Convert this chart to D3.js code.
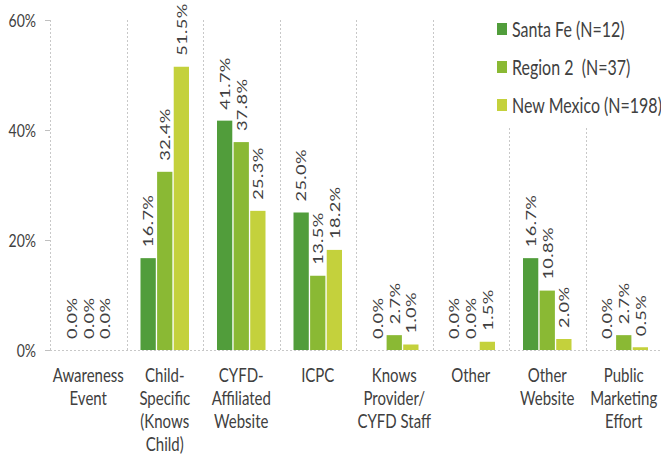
<!DOCTYPE html>
<html><head><meta charset="utf-8">
<script src="https://cdn.jsdelivr.net/npm/d3@7"></script>
<style>
body{margin:0;background:#fff;}
svg{display:block;}
text{font-family:Lato,"Open Sans",sans-serif;fill:#404040;}
</style></head>
<body>
<script>
const categories = ["Awareness Event","Child-Specific (Knows Child)","CYFD-Affiliated Website","ICPC","Knows Provider/ CYFD Staff","Other","Other Website","Public Marketing Effort"];
const categoryLines = [["Awareness","Event"],["Child-","Specific","(Knows","Child)"],["CYFD-","Affiliated","Website"],["ICPC"],["Knows","Provider/","CYFD Staff"],["Other"],["Other","Website"],["Public","Marketing","Effort"]];
const seriesNames = ["Santa Fe (N=12)","Region 2  (N=37)","New Mexico (N=198)"];
const santaFe   = [0.0, 16.7, 41.7, 25.0, 0.0, 0.0, 16.7, 0.0];
const region2   = [0.0, 32.4, 37.8, 13.5, 2.7, 0.0, 10.8, 2.7];
const newMexico = [0.0, 51.5, 25.3, 18.2, 1.0, 1.5, 2.0, 0.5];
const seriesColors = ["#519d3b","#8ab934","#c4d13c"];
const yTicks = [0, 20, 40, 60];

const W = 661, H = 455;
const svg = d3.select("body").append("svg").attr("width", W).attr("height", H);
const SY = 1.3; // vertical stretch of text

const x0 = d3.scaleBand().domain(categories).range([50, 662]).paddingInner(0).paddingOuter(0);
const y = d3.scaleLinear().domain([0, 60]).range([350, 20]);
const groupW = 48.5;
const x1 = d3.scaleBand().domain(d3.range(3)).range([0, groupW]).paddingInner(0.08).paddingOuter(0);
const series = [santaFe, region2, newMexico];

// gridlines (category separators)
const grid = svg.append("g");
const bounds = categories.map(c => x0(c) + x0.bandwidth());
grid.selectAll("line.v").data([50].concat(bounds)).join("line")
  .attr("x1", d => Math.round(d) + 0.5).attr("x2", d => Math.round(d) + 0.5)
  .attr("y1", y(60)).attr("y2", y(0))
  .attr("stroke", "#c8c8c8").attr("stroke-dasharray", "2,2").attr("stroke-width", 1);
// baseline
grid.append("line").attr("x1", 50).attr("x2", 662).attr("y1", y(0) + 0.5).attr("y2", y(0) + 0.5)
  .attr("stroke", "#c8c8c8").attr("stroke-dasharray", "2,2");
// y ticks
grid.selectAll("line.t").data(yTicks).join("line")
  .attr("x1", 45).attr("x2", 50).attr("y1", d => Math.round(y(d)) + 0.5).attr("y2", d => Math.round(y(d)) + 0.5)
  .attr("stroke", "#c0c0c0");

// y tick labels
svg.append("g").selectAll("text").data(yTicks).join("text")
  .attr("transform", d => `translate(36,${y(d)}) scale(1,${SY})`)
  .attr("text-anchor", "end").attr("dy", "0.36em")
  .style("font-size", "14px")
  .text(d => d + "%");

// bars
const groups = svg.append("g").selectAll("g").data(categories).join("g")
  .attr("transform", c => `translate(${x0(c) + (x0.bandwidth() - groupW) / 2},0)`);
groups.each(function(c, i) {
  const g = d3.select(this);
  series.forEach((s, k) => {
    const v = s[i];
    g.append("rect")
      .attr("x", x1(k)).attr("width", x1.bandwidth())
      .attr("y", y(v)).attr("height", y(0) - y(v))
      .attr("fill", seriesColors[k]);
    g.append("text")
      .attr("transform", `translate(${x1(k) + x1.bandwidth() / 2},${y(v) - 11}) scale(1,${SY}) rotate(-90)`)
      .attr("text-anchor", "start").attr("dy", "0.38em")
      .style("font-size", "14px").style("letter-spacing", "0.3px")
      .text(v.toFixed(1) + "%");
  });
});

// category labels
const cl = svg.append("g").selectAll("g").data(categories).join("g")
  .attr("transform", c => `translate(${x0(c) + x0.bandwidth() / 2},0)`);
cl.each(function(c, i) {
  d3.select(this).selectAll("text").data(categoryLines[i]).join("text")
    .attr("transform", (d, j) => `translate(0,${382 + j * 23}) scale(1,${SY})`)
    .attr("text-anchor", "middle")
    .style("font-size", "15px")
    .text(d => d);
});

// legend
const lg = svg.append("g");
lg.append("rect").attr("x", 489).attr("y", 8).attr("width", 172).attr("height", 120).attr("fill", "#fff");
seriesNames.forEach((n, k) => {
  const by = 37 + k * 38;
  lg.append("rect").attr("x", 497).attr("y", by - 14).attr("width", 10).attr("height", 12).attr("fill", seriesColors[k]);
  lg.append("text").attr("transform", `translate(512,${by}) scale(1,${SY})`)
    .style("font-size", "16px").style("white-space", "pre").attr("xml:space", "preserve").text(n);
});
</script>
</body></html>
